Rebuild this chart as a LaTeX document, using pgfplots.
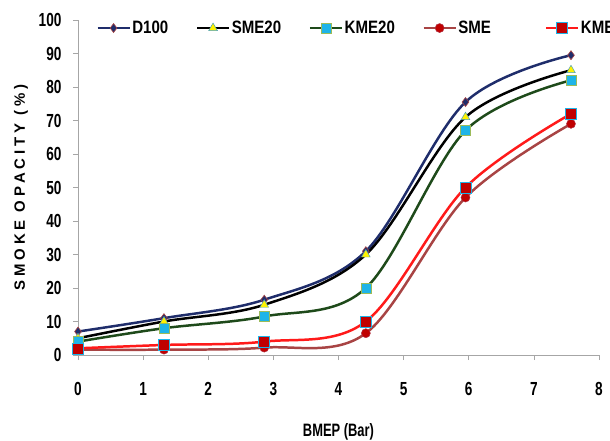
\documentclass[border=0pt]{standalone}
\usepackage{pgfplots}
\pgfplotsset{compat=1.18}
\usepackage{fontspec}
\setmainfont{Liberation Sans}
\newfontfamily\cond[FakeStretch=0.72]{Liberation Sans}
\newfontfamily\legf[FakeStretch=0.84]{Liberation Sans}
\newfontfamily\spaced[LetterSpace=26]{Liberation Sans}

\definecolor{dnavy}{HTML}{1F2D6B}
\definecolor{dgreen}{HTML}{1E4A1A}
\definecolor{brownred}{HTML}{A84444}
\definecolor{kred}{HTML}{FF1A1A}
\definecolor{mkred}{HTML}{C00000}
\definecolor{mcyan}{HTML}{1EB4E8}
\definecolor{molive}{HTML}{9BBB59}

% legend image for the last entry, with extra room to its left
\pgfplotsset{kme legend/.style={legend image code/.code={
  \path (-26bp,0bp);
  \draw[##1, line width=1.5pt, mark repeat=2, mark phase=2] plot coordinates {(0bp,0bp) (16bp,0bp) (32bp,0bp)};}}}

\pgfplotstableread{
x     d100  sme20 kme20 sme  kme
0     7.0   5.0   4.0   1.6  2.0
1.32  11.0  10.0  8.0   1.6  3.0
2.86  16.5  15.0  11.5  2.2  4.0
4.42  31.0  30.0  20.0  6.5  10.0
5.95  75.5  71.0  67.0  47.0 50.0
7.57  89.5  85.0  82.0  69.0 72.0
}\datatab

\begin{document}
\begin{tikzpicture}
\begin{axis}[
  scale only axis,
  width=521bp, height=335bp,
  xmin=0, xmax=8, ymin=0, ymax=100,
  xtick={0,...,8}, ytick={0,10,...,100},
  axis x line*=bottom, axis y line*=left,
  axis line style={gray!70, line width=0.6pt},
  tick style={gray!70, line width=0.6pt},
  tick align=outside,
  major tick length=5bp,
  tick label style={font=\fontsize{19}{19}\selectfont\cond\bfseries},
  /pgf/number format/assume math mode=true,
  xticklabel style={yshift=-19bp},
  yticklabel style={xshift=-8bp},
  xlabel={\fontsize{18}{18}\selectfont\cond\bfseries BMEP (Bar)},
  xlabel style={yshift=-21bp},
  ylabel={\fontsize{15}{15}\selectfont\spaced\bfseries SMOKE OPACITY (\%)},
  ylabel style={yshift=4bp},
  legend columns=-1,
  legend cell align=left,
  legend style={draw=none, fill=none, at={(0.03,0.976)}, anchor=west,
    font=\fontsize{18}{18}\selectfont\legf\bfseries,
    /tikz/every even column/.append style={column sep=26bp}},
  legend image code/.code={
    \draw[#1, line width=1.5pt, mark repeat=2, mark phase=2] plot coordinates {(0bp,0bp) (16bp,0bp) (32bp,0bp)};},
  every axis plot/.append style={smooth, tension=0.55, line width=2.5pt},
]
\addplot[color=dnavy, mark=diamond*, mark size=4.5bp,
  mark options={fill=dnavy, draw=brownred, line width=0.6pt}] table[x=x, y=d100] {\datatab};
\addplot[color=black, mark=triangle*, mark size=5bp,
  mark options={fill=yellow, draw=mcyan!60!gray, line width=0.5pt}] table[x=x, y=sme20] {\datatab};
\addplot[color=dgreen, mark=square*, mark size=5bp,
  mark options={fill=mcyan, draw=molive, line width=0.6pt}] table[x=x, y=kme20] {\datatab};
\addplot[color=brownred, mark=*, mark size=4.5bp,
  mark options={fill=mkred, draw=brownred!70!purple, line width=0.5pt}] table[x=x, y=sme] {\datatab};
\addplot[color=kred, mark=square*, mark size=5.5bp,
  mark options={fill=mkred, draw=mcyan, line width=0.6pt}, kme legend]
  table[x=x, y=kme] {\datatab};
\legend{D100,SME20,KME20,SME,KME}
\coordinate (o) at (rel axis cs:0,0);
\coordinate (e) at (rel axis cs:1,1);
\end{axis}
\pgfresetboundingbox
\path[use as bounding box] ([xshift=-78bp,yshift=-86bp]o) rectangle ([xshift=11bp,yshift=20bp]e);
\end{tikzpicture}
\end{document}
